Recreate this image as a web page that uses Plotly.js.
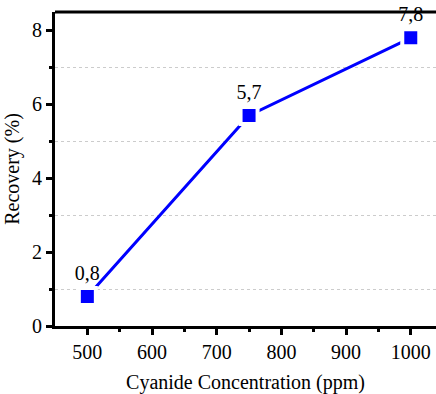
<!DOCTYPE html>
<html><head><meta charset="utf-8">
<script src="https://cdn.plot.ly/plotly-3.0.1.min.js"></script>
</head><body style="margin:0;background:#fff"><div id="c" style="width:436px;height:394px"></div>
<script>
const concentration = [500, 750, 1000];
const recovery = [0.8, 5.7, 7.8];
const labels = ["0,8", "5,7", "7,8"];
const xTicks = [500, 600, 700, 800, 900, 1000];
const yTicks = [0, 2, 4, 6, 8];

const FAM = "Liberation Serif";
function applySerif() {
  document.querySelectorAll('#c text').forEach(function (t) {
    t.style.fontFamily = "'Liberation Serif', 'Times New Roman', serif";
  });
}
const p = Plotly.newPlot('c', [{
  x: concentration, y: recovery, text: labels,
  type: 'scatter', mode: 'lines+markers+text',
  textposition: 'top center',
  textfont: {family: FAM, size: 20, color: '#000'},
  line: {color: '#0000ff', width: 3},
  marker: {symbol: 'square', size: 17, color: '#0000ff', line: {color: '#ffffff', width: 4}},
  cliponaxis: false, showlegend: false
}], {
  width: 436, height: 394,
  margin: {l: 55, r: 0, t: 12, b: 68},
  paper_bgcolor: '#fff', plot_bgcolor: '#fff',
  font: {family: FAM, size: 20, color: '#000'},
  xaxis: {
    range: [450, 1039], tickvals: xTicks,
    ticks: 'outside', ticklen: 6, tickwidth: 2.5, tickcolor: '#000',
    showline: true, linewidth: 3, linecolor: '#000', mirror: false,
    showgrid: false, zeroline: false, automargin: false,
    tickfont: {family: FAM, size: 20, color: '#000'},
    minor: {tickvals: [550,650,750,850,950], ticks: 'outside', ticklen: 3, tickwidth: 2.5, tickcolor: '#000', showgrid: false},
    title: {text: 'Cyanide Concentration (ppm)', font: {family: FAM, size: 20, color: '#000'}, standoff: 16}
  },
  yaxis: {
    range: [0, 8.5], tickvals: yTicks,
    ticks: 'outside', ticklen: 6, tickwidth: 2.5, tickcolor: '#000',
    showline: true, linewidth: 3, linecolor: '#000', mirror: false,
    showgrid: false, zeroline: false, automargin: false,
    tickfont: {family: FAM, size: 20, color: '#000'},
    minor: {tickvals: [1,3,5,7], ticks: 'outside', ticklen: 3, tickwidth: 2.5, tickcolor: '#000',
            showgrid: true, gridcolor: '#cccccc', griddash: 'dot', gridwidth: 1},
    title: {text: 'Recovery (%)', font: {family: FAM, size: 20, color: '#000'}, standoff: 8}
  },
  shapes: [{type: 'line', xref: 'paper', yref: 'paper', x0: 0, x1: 1, y0: 1, y1: 1, line: {color: '#000', width: 3}}]
}, {displayModeBar: false});
applySerif();
if (p && p.then) p.then(applySerif);
</script></body></html>
